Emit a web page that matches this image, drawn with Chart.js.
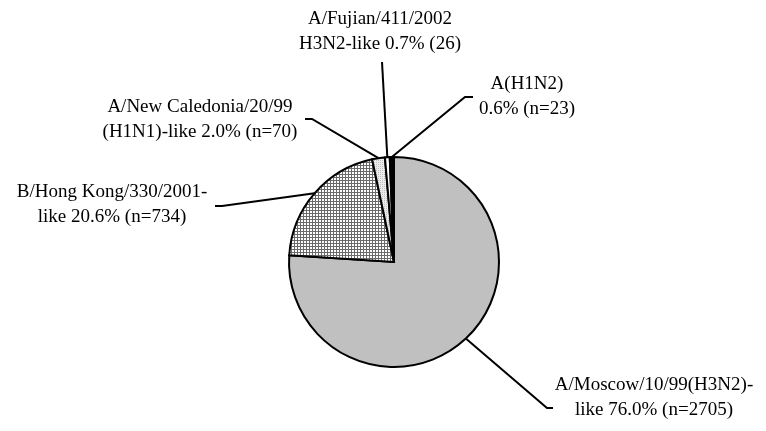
<!DOCTYPE html>
<html>
<head>
<meta charset="utf-8">
<script src="https://cdn.jsdelivr.net/npm/chart.js@4"></script>
<style>
  html, body { margin: 0; padding: 0; background: #fff; }
  #wrap { width: 766px; height: 431px; }
</style>
</head>
<body>
<div id="wrap"><canvas id="pie" width="766" height="431"></canvas></div>
<script>
// Influenza isolates by antigenic characterisation
const categories = [
  "A/Moscow/10/99(H3N2)-like",
  "B/Hong Kong/330/2001-like",
  "A/New Caledonia/20/99 (H1N1)-like",
  "A/Fujian/411/2002 H3N2-like",
  "A(H1N2)"
];
const counts = [2705, 734, 70, 26, 23];

// How each label is split over two lines
const labelFirstLines = [
  "A/Moscow/10/99(H3N2)-",
  "B/Hong Kong/330/2001-",
  "A/New Caledonia/20/99",
  "A/Fujian/411/2002",
  "A(H1N2)"
];
const labelSecondPrefixes = ["like ", "like ", "(H1N1)-like ", "H3N2-like ", ""];
const countFormats = ["n=", "n=", "n=", "", "n="];

const total = counts.reduce((a, b) => a + b, 0);
const percents = counts.map(c => (c / total * 100).toFixed(1));

// Fill patterns
function makePattern(draw, w, h) {
  const c = document.createElement('canvas');
  c.width = w; c.height = h;
  const g = c.getContext('2d');
  draw(g);
  return g.createPattern(c, 'repeat');
}
const ctx0 = document.getElementById('pie').getContext('2d');
const crossHatch = makePattern(g => {
  g.fillStyle = '#fff'; g.fillRect(0, 0, 3, 3);
  g.fillStyle = '#6a6a6a'; g.fillRect(0, 0, 3, 1); g.fillRect(0, 0, 1, 3);
}, 3, 3);
const dotted = makePattern(g => {
  g.fillStyle = '#ececec'; g.fillRect(0, 0, 2, 2);
  g.fillStyle = '#bdbdbd'; g.fillRect(0, 0, 1, 1);
}, 2, 2);

const fills = ['#c0c0c0', crossHatch, dotted, '#ffffff', '#000000'];

// Label placement: text centre, first line y, and leader elbow/end points
const labelLayout = [
  { x: 654, y: 385, elbow: [547, 408], end: [553, 408] },
  { x: 112, y: 192, elbow: [222, 206], end: [215, 206] },
  { x: 200, y: 107, elbow: [312, 119], end: [305, 119] },
  { x: 380, y: 19,  elbow: null,       end: [382, 62] },
  { x: 527, y: 84,  elbow: [465, 97],  end: [473, 97] }
];

const leaderLabels = {
  id: 'leaderLabels',
  afterDatasetsDraw(chart) {
    const ctx = chart.ctx;
    const arcs = chart.getDatasetMeta(0).data;
    ctx.save();
    ctx.strokeStyle = '#000';
    ctx.lineWidth = 2;
    arcs.forEach((arc, i) => {
      const p = arc.getProps(['x', 'y', 'startAngle', 'endAngle', 'outerRadius'], true);
      const mid = (p.startAngle + p.endAngle) / 2;
      const sx = p.x + Math.cos(mid) * p.outerRadius;
      const sy = p.y + Math.sin(mid) * p.outerRadius;
      const L = labelLayout[i];
      ctx.beginPath();
      ctx.moveTo(sx, sy);
      if (L.elbow) ctx.lineTo(L.elbow[0], L.elbow[1]);
      ctx.lineTo(L.end[0], L.end[1]);
      ctx.stroke();

      ctx.fillStyle = '#000';
      ctx.font = '19px "Liberation Serif", "Times New Roman", serif';
      ctx.textAlign = 'center';
      ctx.textBaseline = 'middle';
      const line2 = labelSecondPrefixes[i] + percents[i] + '% (' + countFormats[i] + counts[i] + ')';
      ctx.fillText(labelFirstLines[i], L.x, L.y);
      ctx.fillText(line2, L.x, L.y + 25);
    });
    ctx.restore();
  }
};

new Chart(ctx0, {
  type: 'pie',
  data: {
    labels: categories,
    datasets: [{
      data: counts,
      backgroundColor: fills,
      borderColor: '#000',
      borderWidth: 2,
      borderJoinStyle: 'miter'
    }]
  },
  options: {
    responsive: false,
    animation: false,
    layout: { padding: { left: 288, right: 266, top: 156, bottom: 63 } },
    plugins: {
      legend: { display: false },
      tooltip: { enabled: false }
    }
  },
  plugins: [leaderLabels]
});
</script>
</body>
</html>
